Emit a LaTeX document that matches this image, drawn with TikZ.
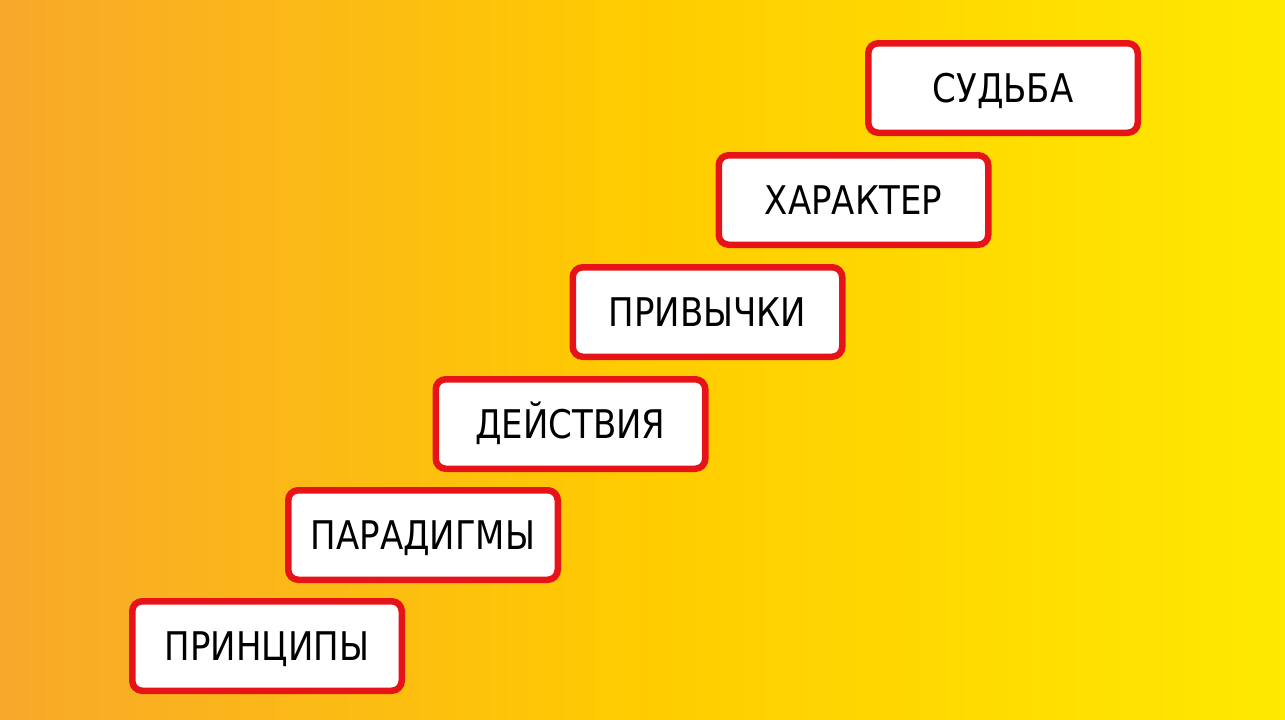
\documentclass[tikz,border=0pt]{standalone}
\usepackage{fontspec}
\setmainfont{DejaVu Sans}
\newfontfamily\boxfont[FakeStretch=0.86]{DejaVu Sans}
\definecolor{bgL}{RGB}{248,168,42}
\definecolor{bgM}{RGB}{255,204,0}
\definecolor{bgR}{RGB}{255,233,0}
\definecolor{bred}{RGB}{230,20,24}
\begin{document}
\begin{tikzpicture}[x=1pt,y=-1pt,
  stepbox/.style={draw=bred,line width=6.5pt,fill=white,rounded corners=10pt,
    minimum width=269.5pt,minimum height=89.5pt,inner sep=0pt,
    text height=29pt,text depth=0pt,
    font=\boxfont\fontsize{39.5}{40}\selectfont,text=black}]
\shade[left color=bgL,right color=bgR,middle color=bgM] (0,0) rectangle (1285,720);
\useasboundingbox (0,0) rectangle (1285,720);
\node[stepbox] (p1) at (267,646) {ПРИНЦИПЫ};
\node[stepbox] (p2) at (423,535) {ПАРАДИГМЫ};
\node[stepbox] (p3) at (570.5,424) {ДЕЙСТВИЯ};
\node[stepbox] (p4) at (707.5,312) {ПРИВЫЧКИ};
\node[stepbox] (p5) at (853.5,200) {ХАРАКТЕР};
\node[stepbox] (p6) at (1003,88) {СУДЬБА};
\end{tikzpicture}
\end{document}
